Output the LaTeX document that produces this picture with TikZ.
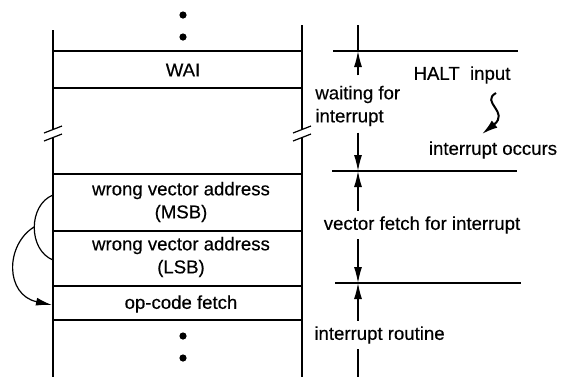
\documentclass[tikz,border=0pt]{standalone}
\usepackage{fontspec}
\setmainfont{Liberation Sans}[UprightFeatures={FakeBold=0.4}]
\usetikzlibrary{arrows.meta}

\begin{document}
\begin{tikzpicture}[x=0.5pt, y=-0.5pt,
    txt/.style={font=\fontsize{9.3}{11.5}\selectfont, inner sep=1pt, align=center},
    wall/.style={line width=1.3pt},
    row/.style={line width=0.9pt},
    thinline/.style={line width=0.6pt},
    dim/.style={line width=0.6pt, -{Latex[length=8pt, width=4pt]}},
    dot/.style={circle, fill=black, inner sep=0pt, minimum size=3.6pt}]
  \useasboundingbox (0,0) rectangle (561,377);

  % stack walls and rows
  \draw[wall] (53,30) -- (53,377);
  \draw[wall] (302,25) -- (302,377);
  \foreach \y in {51,88,174,231,286,320}
    \draw[row] (53,\y) -- (302,\y);

  % break marks
  \foreach \x in {53,302} {
    \fill[white] (\x-9,133) -- (\x+9,126) -- (\x+9,134) -- (\x-9,141) -- cycle;
    \draw[thinline] (\x-9,133) -- (\x+9,126);
    \draw[thinline] (\x-9,141) -- (\x+9,134);
  }

  % dots
  \node[dot] (dotA) at (183,15) {};
  \node[dot] (dotB) at (183,37) {};
  \node[dot] (dotC) at (183,336) {};
  \node[dot] (dotD) at (183,358) {};

  % cell contents
  \node[txt] (wai) at (183,70) {WAI};
  \node[txt] (msb) at (181,202) {wrong vector address\\(MSB)};
  \node[txt] (lsb) at (181,257) {wrong vector address\\(LSB)};
  \node[txt] (fetch) at (181,304) {op-code fetch};

  % sequence arcs on the left
  \coordinate (msbL) at (53,195);
  \coordinate (lsbL) at (53,260);
  \coordinate (arcM) at (34,227);
  \coordinate (fetchL) at (52,305);
  \draw[thinline] (msbL) .. controls (28,205) and (28,250) .. (lsbL);
  \draw[thinline, -{Latex[length=8pt, width=4pt]}]
    (arcM) .. controls (5,245) and (5,295) .. (fetchL);

  % timing lines on the right
  \coordinate (t1) at (358,51);
  \coordinate (t2) at (358,171);
  \coordinate (t3) at (358,283);
  \draw[thinline] (333,51) -- (518,51);
  \draw[thinline] (332,171) -- (517,171);
  \draw[thinline] (335,283) -- (521,283);

  \node[txt, anchor=west, align=left] (wait) at (313,106) {waiting for\\interrupt};
  \node[txt] (vfetch) at (422,225) {vector fetch for interrupt};
  \node[txt, anchor=west] (routine) at (312,335) {interrupt routine};

  \draw[thinline] (358,25) -- (t1);
  \draw[dim] (wait.north -| t1) ++(0,-8) -- (t1);
  \draw[dim] (wait.south -| t1) ++(0,4) -- (t2);
  \draw[dim] (vfetch.north -| t1) ++(0,-3) -- (t2);
  \draw[dim] (vfetch.south -| t1) ++(0,3) -- (t3);
  \draw[dim] (routine.north -| t1) ++(0,-3) -- (t3);
  \draw[thinline] (routine.south -| t1) ++(0,3) -- (358,377);

  % halt note
  \node[txt] (halt) at (462,75) {HALT\ \ input};
  \node[txt] (occurs) at (493,150) {interrupt occurs};
  \coordinate (sqTop) at (496,93);
  \coordinate (sqEnd) at (482,134);
  \draw[line width=1pt, -{Latex[length=8pt, width=4.5pt]}]
    (sqTop) .. controls (480,102) and (510,112) .. (sqEnd);
\end{tikzpicture}
\end{document}
